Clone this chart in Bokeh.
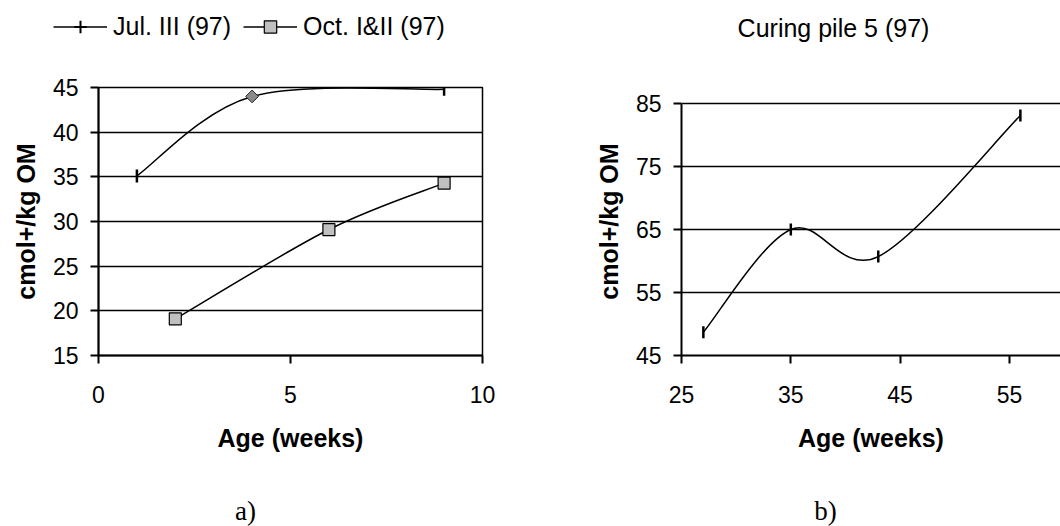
import math
from bokeh.plotting import figure
from bokeh.layouts import row, column
from bokeh.models import Range1d, FixedTicker, Legend, LegendItem, Label, ColumnDataSource
from bokeh.embed import file_html
from bokeh.resources import INLINE

# ---------------- data ----------------
# panel a)
jul_weeks = [1, 4, 9]
jul_cec = [35.1, 44.0, 44.8]
oct_weeks = [2, 6, 9]
oct_cec = [19.1, 29.1, 34.3]
# panel b)
pile_weeks = [27, 35, 43, 56]
pile_cec = [48.7, 65.0, 60.7, 83.1]

a_xticks = [0, 5, 10]
a_yticks = [15, 20, 25, 30, 35, 40, 45]
b_xticks = [25, 35, 45, 55]
b_yticks = [45, 55, 65, 75, 85]

legend_labels = ["Jul. III (97)", "Oct. I&II (97)"]
title_b = "Curing pile 5 (97)"
x_label = "Age (weeks)"
y_label = "cmol+/kg OM"
captions = ["a)", "b)"]

SANS = "Liberation Sans"
SERIF = "Liberation Serif"
W = 530
TOTAL_W = 1060
TOP_H = 60
ROW_H = 427
BOT_H = 39
NAN = float("nan")


def smooth_segments(xs, ys, t=1.0 / 6.0):
    """Excel-like smoothed line: cubic Bezier segments through the data points."""
    n = len(xs)
    d = dict(x0=[], y0=[], x1=[], y1=[], cx0=[], cy0=[], cx1=[], cy1=[])
    for i in range(n - 1):
        xp, yp = (xs[i - 1], ys[i - 1]) if i > 0 else (xs[i], ys[i])
        xn, yn = (xs[i + 2], ys[i + 2]) if i + 2 < n else (xs[i + 1], ys[i + 1])
        d["x0"].append(xs[i]); d["y0"].append(ys[i])
        d["x1"].append(xs[i + 1]); d["y1"].append(ys[i + 1])
        d["cx0"].append(xs[i] + (xs[i + 1] - xp) * t)
        d["cy0"].append(ys[i] + (ys[i + 1] - yp) * t)
        d["cx1"].append(xs[i + 1] - (xn - xs[i]) * t)
        d["cy1"].append(ys[i + 1] - (yn - ys[i]) * t)
    return ColumnDataSource(d)


def style(p, xticks, yticks):
    p.xgrid.visible = False
    p.ygrid.grid_line_color = "black"
    p.ygrid.grid_line_width = 1.5
    p.background_fill_color = "white"
    p.border_fill_color = "white"
    p.xaxis.ticker = FixedTicker(ticks=xticks)
    p.yaxis.ticker = FixedTicker(ticks=yticks)
    for ax in (p.xaxis[0], p.yaxis[0]):
        ax.axis_line_color = "black"
        ax.axis_line_width = 2
        ax.major_tick_line_color = "black"
        ax.major_tick_line_width = 2
        ax.major_tick_out = 8
        ax.major_tick_in = 0
        ax.minor_tick_out = 0
        ax.minor_tick_in = 0
        ax.major_label_text_font = SANS
        ax.major_label_text_font_size = "23px"
        ax.major_label_text_color = "black"
        ax.axis_label_text_font = SANS
        ax.axis_label_text_font_size = "25px"
        ax.axis_label_text_font_style = "bold"
        ax.axis_label_text_color = "black"
    p.xaxis.axis_label = x_label
    p.yaxis.axis_label = y_label
    p.xaxis.major_label_standoff = 22
    p.yaxis.major_label_standoff = 12
    p.xaxis.axis_label_standoff = 18
    p.yaxis.axis_label_standoff = 10


def strip(height):
    """A blank full-width text strip whose frame is the whole strip (pixel coordinates)."""
    s = figure(width=TOTAL_W, height=height, x_range=Range1d(0, TOTAL_W), y_range=Range1d(0, height),
               output_backend="svg", toolbar_location=None,
               min_border_left=0, min_border_right=0, min_border_top=0, min_border_bottom=0)
    s.axis.visible = False
    s.grid.visible = False
    s.outline_line_color = None
    s.background_fill_color = "white"
    s.border_fill_color = "white"
    return s


def text_label(x, y, text, font, size):
    return Label(x=x, y=y, text=text, text_align="center", text_baseline="middle",
                 text_font=font, text_font_size=size, text_color="black")


# ---------------- top strip: legend of a) and title of b) ----------------
top = strip(TOP_H)
# legend-only renderers (no visible data)
leg_line1 = top.line(x=[NAN], y=[NAN], line_color="black", line_width=1.5)
leg_mark1 = top.scatter(x=[NAN], y=[NAN], marker="cross", size=13,
                        line_color="black", line_width=2)
leg_line2 = top.line(x=[NAN], y=[NAN], line_color="black", line_width=1.5)
leg_mark2 = top.scatter(x=[NAN], y=[NAN], marker="square", size=12,
                        fill_color="#c0c0c0", line_color="black", line_width=1.2)
legend = Legend(items=[LegendItem(label=legend_labels[0], renderers=[leg_line1, leg_mark1]),
                       LegendItem(label=legend_labels[1], renderers=[leg_line2, leg_mark2])],
                location=(53, 18), orientation="horizontal",
                glyph_width=54, glyph_height=31, label_standoff=6, spacing=12,
                padding=0, margin=0, border_line_color=None, background_fill_alpha=0,
                label_text_font=SANS, label_text_font_size="25px", label_text_color="black")
top.add_layout(legend)
top.add_layout(text_label(833, 33, title_b, SANS, "25px"))

# ---------------- panel a ----------------
pa = figure(width=W, height=ROW_H, x_range=Range1d(0, 10), y_range=Range1d(15, 45),
            output_backend="svg", toolbar_location=None,
            min_border_left=98, min_border_right=48, min_border_top=27, min_border_bottom=132)
style(pa, a_xticks, a_yticks)
pa.outline_line_color = "black"
pa.outline_line_width = 1.5

pa.bezier("x0", "y0", "x1", "y1", "cx0", "cy0", "cx1", "cy1",
          source=smooth_segments(jul_weeks, jul_cec), line_color="black", line_width=1.5)
pa.bezier("x0", "y0", "x1", "y1", "cx0", "cy0", "cx1", "cy1",
          source=smooth_segments(oct_weeks, oct_cec), line_color="black", line_width=1.5)
pa.scatter([jul_weeks[0], jul_weeks[2]], [jul_cec[0], jul_cec[2]], marker="dash",
           angle=math.pi / 2, size=13, line_color="black", line_width=2.5)
pa.scatter([jul_weeks[1]], [jul_cec[1]], marker="square", angle=math.pi / 4, size=9,
           fill_color="#8a8a8a", line_color="#222222", line_width=1)
pa.scatter(oct_weeks, oct_cec, marker="square", size=12,
           fill_color="#c0c0c0", line_color="black", line_width=1.2)

# ---------------- panel b ----------------
# frame top shares panel a's top; the 85 line sits 16 px lower, axis limited to 45..85
pb = figure(width=W, height=ROW_H, x_range=Range1d(25, 59.67), y_range=Range1d(45, 87.54),
            output_backend="svg", toolbar_location=None,
            min_border_left=151, min_border_right=0, min_border_top=27, min_border_bottom=132)
style(pb, b_xticks, b_yticks)
pb.yaxis.bounds = (45, 85)
pb.outline_line_color = None

pb.bezier("x0", "y0", "x1", "y1", "cx0", "cy0", "cx1", "cy1",
          source=smooth_segments(pile_weeks, pile_cec), line_color="black", line_width=1.5)
pb.scatter(pile_weeks, pile_cec, marker="dash", angle=math.pi / 2, size=12,
           line_color="black", line_width=2.5)

# ---------------- bottom strip: captions ----------------
bottom = strip(BOT_H)
bottom.add_layout(text_label(245, 16, captions[0], SERIF, "27px"))
bottom.add_layout(text_label(825, 16, captions[1], SERIF, "27px"))

layout = column(top, row(pa, pb, spacing=0), bottom, spacing=0)
open("out.html", "w").write(file_html(layout, INLINE))
